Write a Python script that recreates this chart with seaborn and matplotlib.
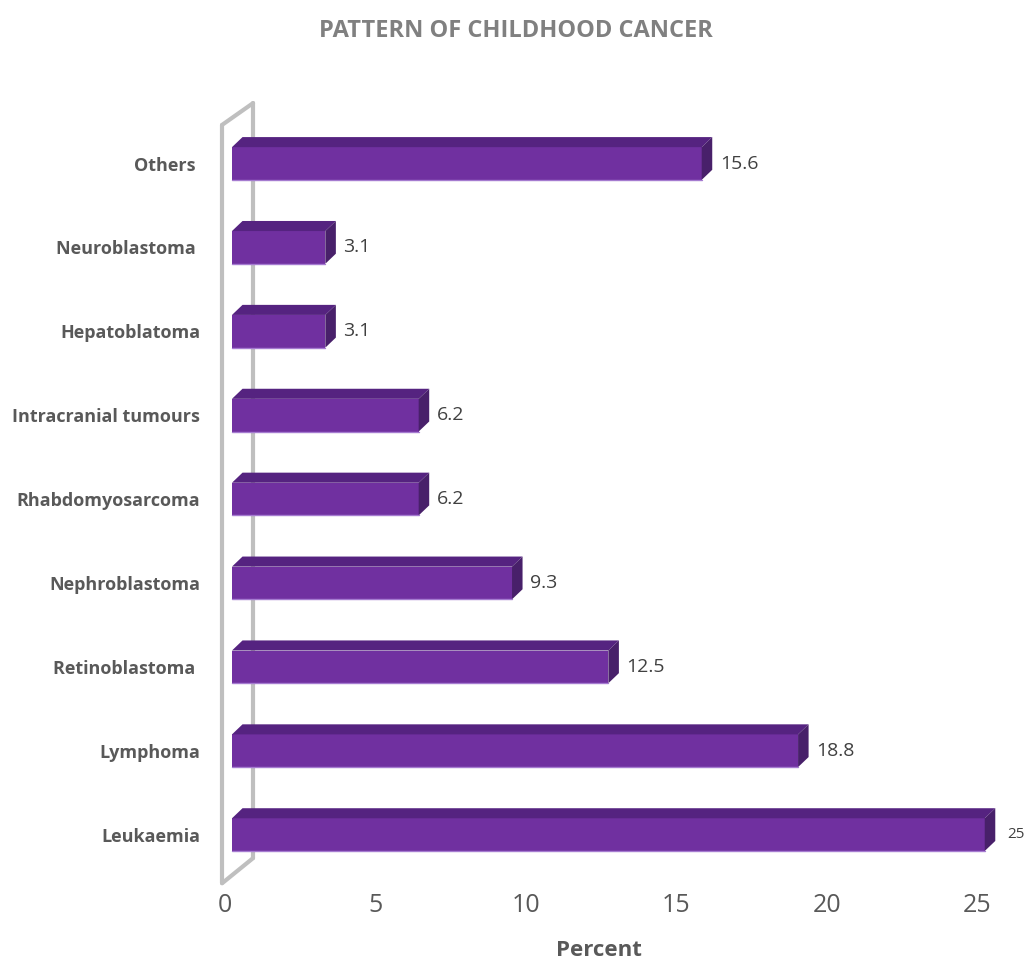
import matplotlib
matplotlib.use('Agg')
import matplotlib.pyplot as plt
from matplotlib.patches import Polygon
import seaborn as sns
import pandas as pd
import numpy as np

# data (top to bottom as in the chart)
cancer_types = ['Others ', 'Neuroblastoma ', 'Hepatoblatoma', 'Intracranial tumours',
                'Rhabdomyosarcoma', 'Nephroblastoma', 'Retinoblastoma ', 'Lymphoma', 'Leukaemia']
percent = [15.6, 3.1, 3.1, 6.2, 6.2, 9.3, 12.5, 18.8, 25]
x_ticks = [0, 5, 10, 15, 20, 25]

df = pd.DataFrame({'type': cancer_types, 'percent': percent})

sns.set_theme(style='white')
plt.rcParams['font.family'] = ['Open Sans', 'DejaVu Sans']

fig = plt.figure(figsize=(10.33, 9.63), dpi=100)
ax = fig.add_axes([0.210, 0.0723, 0.787, 0.8276])

front = '#7030A0'
top_col = '#552380'
side_col = '#48206A'
bar_h = 0.39
dx, dy = 0.35, 0.12   # 3d depth offsets (data units)

sns.barplot(data=df, x='percent', y='type', order=cancer_types, orient='h',
            color=front, saturation=1, width=bar_h, ax=ax, zorder=3,
            linewidth=0, edgecolor=front)

# 3d faces for each bar
for i, v in enumerate(percent):
    y_top = i - bar_h / 2
    y_bot = i + bar_h / 2
    ax.add_patch(Polygon([(0, y_top), (v, y_top), (v + dx, y_top - dy), (dx, y_top - dy)],
                         closed=True, facecolor=top_col, edgecolor='none', zorder=3))
    ax.add_patch(Polygon([(v, y_top), (v + dx, y_top - dy), (v + dx, y_bot - dy), (v, y_bot)],
                         closed=True, facecolor=side_col, edgecolor='none', zorder=3))
    ax.plot([0, v], [y_bot, y_bot], color='#A57BD0', lw=1, zorder=4)
    if v == max(percent):
        ax.text(v + dx + 0.4, i, f'{v:g}', va='center', ha='left', fontsize=11, color='#404040')
    else:
        ax.text(v + dx + 0.25, i, f'{v:g}', va='center', ha='left', fontsize=14, color='#404040')

# back wall frame
wl, wr = -0.33, 0.70
wall = dict(color='#BFBFBF', lw=3, solid_capstyle='round', zorder=1, clip_on=False)
n = len(cancer_types)
ax.plot([wl, wl], [-0.46, n - 0.42], **wall)
ax.plot([wr, wr], [-0.72, n - 0.72], **wall)
ax.plot([wl, wr], [-0.46, -0.72], **wall)
ax.plot([wl, wr], [n - 0.42, n - 0.72], **wall)

ax.set_xlim(-0.5, 26.5)
ax.set_ylim(n - 0.3, -0.8)
ax.set_xticks([t - 0.25 for t in x_ticks])
ax.set_xticklabels([str(t) for t in x_ticks], fontsize=18, color='#595959')
ax.tick_params(axis='x', length=0, pad=0)
ax.tick_params(axis='y', length=0, pad=12)
for lab in ax.get_yticklabels():
    lab.set_fontsize(13)
    lab.set_fontweight('bold')
    lab.set_color('#595959')
ax.set_ylabel('')
ax.set_xlabel('Percent', fontsize=16, fontweight='bold', color='#595959')
ax.xaxis.set_label_coords(0.47, -0.059)
sns.despine(ax=ax, left=True, bottom=True)
ax.grid(False)

fig.text(0.499, 0.968, 'PATTERN OF CHILDHOOD CANCER', ha='center', va='center',
         fontsize=17, fontweight='bold', color='#808080')

fig.savefig('out.png', dpi=100)
